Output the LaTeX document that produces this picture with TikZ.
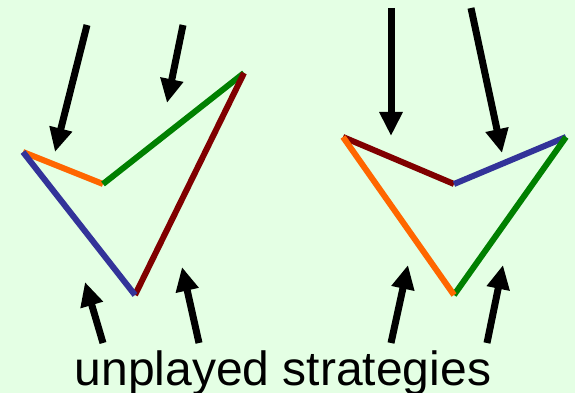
\documentclass[tikz,border=0pt]{standalone}
\usepackage{fontspec}
\setmainfont{Liberation Sans}
\usetikzlibrary{arrows.meta}
\definecolor{bgGreen}{RGB}{228,255,228}
\definecolor{segOrange}{RGB}{255,102,0}
\definecolor{segGreen}{RGB}{0,128,0}
\definecolor{segRed}{RGB}{128,0,0}
\definecolor{segBlue}{RGB}{51,51,153}

\begin{document}
\begin{tikzpicture}[x=1pt,y=-1pt,
      seg/.style={line width=6pt},
      arr/.style={-{Triangle[width=22pt,length=24pt]},line width=7pt,draw=black},
      lbl/.style={font=\fontsize{48}{52}\selectfont,anchor=base,inner sep=0pt}
    ]
    \fill[bgGreen] (0,0) rectangle (575,393);
    \useasboundingbox (0,0) rectangle (575,393);
    % left polygon
    \coordinate (la) at (23,152);
    \coordinate (lb) at (103,184);
    \coordinate (lc) at (244,73);
    \coordinate (ld) at (135,295);
    \draw[seg,segOrange] (la) -- (lb);
    \draw[seg,segGreen] (lb) -- (lc);
    \draw[seg,segRed] (lc) -- (ld);
    \draw[seg,segBlue] (ld) -- (la);
    % right polygon
    \coordinate (ra) at (343,137);
    \coordinate (rb) at (454,184);
    \coordinate (rc) at (566,137);
    \coordinate (rd) at (454,295);
    \draw[seg,segRed] (ra) -- (rb);
    \draw[seg,segBlue] (rb) -- (rc);
    \draw[seg,segGreen] (rc) -- (rd);
    \draw[seg,segOrange] (rd) -- (ra);
    % arrows from above
    \coordinate (t1) at (87,25);    \coordinate (h1) at (55,152);
    \coordinate (t2) at (183,25);   \coordinate (h2) at (167,103);
    \coordinate (t5) at (391,8);    \coordinate (h5) at (391,136);
    \coordinate (t6) at (471,8);    \coordinate (h6) at (502,153);
    % arrows from below
    \coordinate (t3) at (103,343);  \coordinate (h3) at (85,282);
    \coordinate (t4) at (199,343);  \coordinate (h4) at (182,267);
    \coordinate (t7) at (391,343);  \coordinate (h7) at (408,265);
    \coordinate (t8) at (487,343);  \coordinate (h8) at (503,265);
    \foreach \i in {1,...,8}
      \draw[arr] (t\i) -- (h\i);
    \node[lbl] (unplayed) at (283,385) {unplayed strategies};
  \end{tikzpicture}
\end{document}
